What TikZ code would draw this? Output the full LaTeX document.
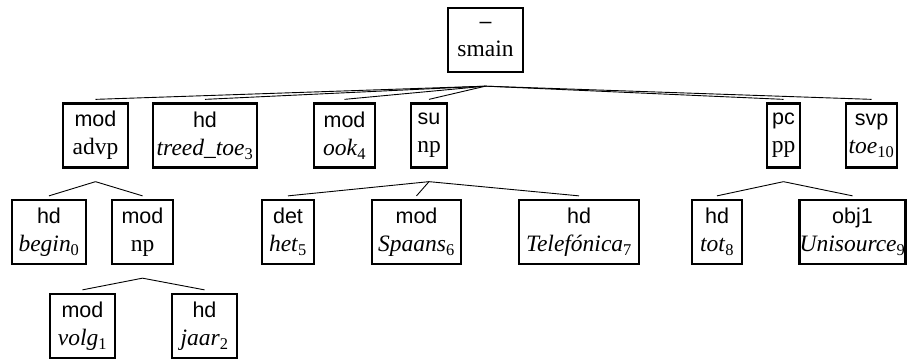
\documentclass[tikz,border=0pt]{standalone}
\usepackage{fontspec}
\setmainfont{Liberation Serif}
\setsansfont{Liberation Sans}
\newcommand{\deprel}[1]{{\fontsize{21.5}{28}\selectfont\sffamily #1}}
\newcommand{\lexw}[2]{\textit{#1}\textsubscript{#2}}
\begin{document}
\begin{tikzpicture}[
			x=1pt, y=-1pt,
			cat/.style = {draw, rectangle, line width=2.3pt, align=center, inner xsep=0pt,
				minimum height=64pt, font=\fontsize{23.5}{28}\selectfont},
			edge/.style = {draw, line width=0.9pt}]
			\useasboundingbox (0,0) rectangle (907,360);
			
			% root
			\node[cat, minimum width=75pt] (smain) at (485.5,40) {\deprel{--}\\smain};
			
			% daughters of the root
			\node[cat, minimum width=65pt] (advp) at (95.5,135.5) {\deprel{mod}\\advp};
			\node[cat, minimum width=104pt] (treed) at (205,135.5) {\deprel{hd}\\\lexw{treed\_toe}{3}};
			\node[cat, minimum width=61pt] (ook) at (344.5,135.5) {\deprel{mod}\\\lexw{ook}{4}};
			\node[cat, minimum width=36pt] (np1) at (429,135.5) {\deprel{su}\\np};
			\node[cat, minimum width=33pt] (pp) at (783.5,135.5) {\deprel{pc}\\pp};
			\node[cat, minimum width=51pt] (svp) at (871.5,135.5) {\deprel{svp}\\\lexw{toe}{10}};
			
			% third row
			\node[cat, minimum width=74pt] (begin) at (49,232) {\deprel{hd}\\\lexw{begin}{0}};
			\node[cat, minimum width=61pt] (np2) at (142.5,232) {\deprel{mod}\\np};
			\node[cat, minimum width=52pt] (het) at (288,232) {\deprel{det}\\\lexw{het}{5}};
			\node[cat, minimum width=89pt] (spaans) at (416.5,232) {\deprel{mod}\\\lexw{Spaans}{6}};
			\node[cat, minimum width=120pt] (telef) at (579,232) {\deprel{hd}\\\lexw{Telefónica}{7}};
			\node[cat, minimum width=50pt] (tot) at (717,232) {\deprel{hd}\\\lexw{tot}{8}};
			\node[cat, minimum width=106pt] (unis) at (852.5,232) {\deprel{obj1}\\\lexw{Unisource}{9}};
			
			% fourth row
			\node[cat, minimum width=65pt] (volg) at (82.5,326) {\deprel{mod}\\\lexw{volg}{1}};
			\node[cat, minimum width=65pt] (jaar) at (204.5,326) {\deprel{hd}\\\lexw{jaar}{2}};
			
			% edges from a point under each mother to the top of each daughter
			\foreach \d in {advp,treed,ook,np1,pp,svp}
			\draw[edge] ([yshift=-13pt]smain.south) -- ([yshift=3pt]\d.north);
			
			\foreach \d in {begin,np2}
			\draw[edge] ([yshift=-13pt]advp.south) -- ([yshift=3pt]\d.north);
			
			\foreach \d in {het,spaans,telef}
			\draw[edge] ([yshift=-13pt]np1.south) -- ([yshift=3pt]\d.north);
			
			\foreach \d in {tot,unis}
			\draw[edge] ([yshift=-13pt]pp.south) -- ([yshift=3pt]\d.north);
			
			\foreach \d in {volg,jaar}
			\draw[edge] ([yshift=-13pt]np2.south) -- ([yshift=3pt]\d.north);
		\end{tikzpicture}
\end{document}
